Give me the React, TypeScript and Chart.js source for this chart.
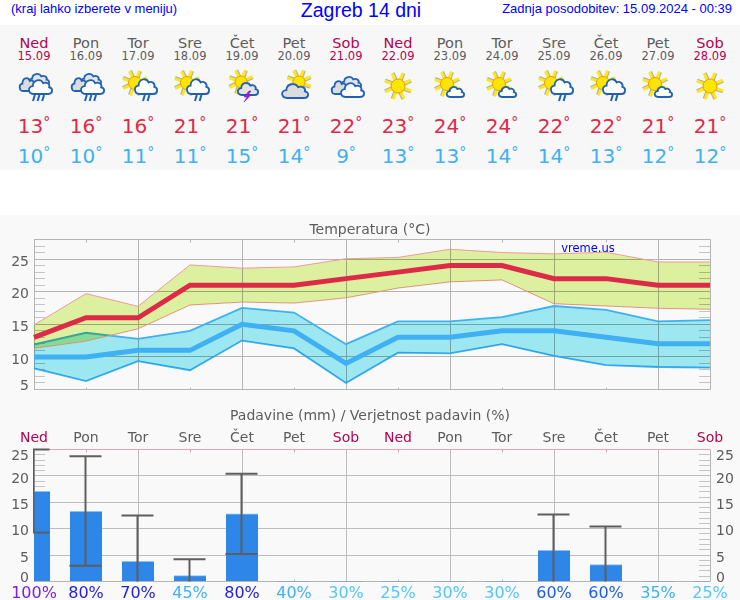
import React, { useEffect, useRef } from "react";
import { Chart, registerables } from "chart.js";

const days = ["Ned", "Pon", "Tor", "Sre", "Čet", "Pet", "Sob", "Ned", "Pon", "Tor", "Sre", "Čet", "Pet", "Sob"];
const dates = ["15.09", "16.09", "17.09", "18.09", "19.09", "20.09", "21.09", "22.09", "23.09", "24.09", "25.09", "26.09", "27.09", "28.09"];
const icons = ["rain", "rain", "sunrain", "sunrain", "storm", "cloudsun", "clouds", "sun", "suncloud", "suncloud", "sunrain", "sunrain", "suncloud", "sun"];
const maxTemps = [13, 16, 16, 21, 21, 21, 22, 23, 24, 24, 22, 22, 21, 21];
const minTemps = [10, 10, 11, 11, 15, 14, 9, 13, 13, 14, 14, 13, 12, 12];
const maxHigh = [14.9, 19.7, 17.75, 24.1, 23.6, 23.8, 25.05, 25.25, 26.5, 26.0, 25.8, 26.05, 24.55, 24.55];
const maxLow = [11.3, 12.4, 14.3, 17.95, 18.4, 18.25, 19.05, 20.55, 21.5, 21.8, 18.15, 17.8, 17.45, 17.3];
const minHigh = [11.9, 13.7, 12.75, 14.0, 17.5, 16.8, 11.95, 15.45, 15.45, 16.1, 17.8, 17.2, 15.45, 15.65];
const minLow = [8.25, 6.3, 9.35, 7.95, 12.5, 11.3, 6.0, 10.65, 10.55, 11.95, 10.15, 8.75, 8.45, 8.35];
const rainMm = [17.1, 13.3, 3.8, 1.1, 12.8, 0, 0, 0, 0, 0, 5.9, 3.2, 0, 0];
const rainLow = [9.3, 3.0, 0, 0, 5.2, null, null, null, null, null, 0, 0, null, null];
const rainHigh = [25, 23.7, 12.5, 4.2, 20.4, null, null, null, null, null, 12.7, 10.4, null, null];
const rainChance = [100, 80, 70, 45, 80, 40, 30, 25, 30, 30, 60, 60, 35, 25];
const pctLabels = rainChance.map((p) => p + "%");

const FONT = "'DejaVu Sans'";
const SANS = "'Liberation Sans'";
const GREY = "#5c5c5c";
const GRID = "#b4b4b4";
const CRIMSON = "#b0054f";
const RED = "#dd2a47";
const BLUE = "#3fb0f2";

const dayColor = (d: string) => (d === "Ned" || d === "Sob" ? CRIMSON : GREY);
const pctColor = (p: number) =>
  p >= 100 ? "#7a1fe0" : p >= 70 ? "#2424d6" : p >= 60 ? "#2060e0" : p >= 35 ? "#3fb0f8" : "#55c4fb";

const blendOn = {
  id: "bandBlendOn",
  beforeDatasetDraw(chart: any, args: any) {
    if (chart.data.datasets[args.index].band) chart.ctx.globalCompositeOperation = "multiply";
  },
};
Chart.register(blendOn);
Chart.register(...registerables);

const blendOff = {
  id: "bandBlendOff",
  beforeDatasetDraw(chart: any) {
    chart.ctx.globalCompositeOperation = "source-over";
  },
};

function hLine(ctx: any, x0: number, x1: number, y: number) {
  const p = Math.round(y - 0.5) + 0.5;
  ctx.beginPath();
  ctx.moveTo(x0, p);
  ctx.lineTo(x1, p);
  ctx.stroke();
}

const axisMarks = (minor: string, topColor: string, minorLen: number) => ({
  id: "axisMarks",
  beforeDatasetsDraw(chart: any) {
    const { ctx, chartArea: a, scales } = chart;
    const y = scales.y;
    ctx.save();
    ctx.lineWidth = 1;
    ctx.strokeStyle = minor;
    for (let v = Math.ceil(y.min); v <= y.max; v++) {
      if (v % 5 === 0) continue;
      const p = y.getPixelForValue(v);
      hLine(ctx, a.left, a.left + minorLen, p);
      hLine(ctx, a.right - minorLen, a.right, p);
    }
    // x tick stubs at the odd columns
    for (let i = 1; i < days.length; i += 2) {
      const px = Math.round(scales.x.getPixelForValue(i)) + 0.5;
      ctx.strokeStyle = topColor;
      ctx.beginPath();
      ctx.moveTo(px, a.top);
      ctx.lineTo(px, a.top + 3);
      ctx.stroke();
      ctx.strokeStyle = GRID;
      ctx.beginPath();
      ctx.moveTo(px, a.bottom);
      ctx.lineTo(px, a.bottom - 2);
      ctx.stroke();
    }
    ctx.strokeStyle = topColor;
    hLine(ctx, a.left, a.right, a.top);
    ctx.strokeStyle = GRID;
    hLine(ctx, a.left, a.right, a.bottom);
    ctx.beginPath();
    ctx.moveTo(a.left + 0.5, a.top);
    ctx.lineTo(a.left + 0.5, a.bottom);
    ctx.moveTo(a.right + 0.5, a.top);
    ctx.lineTo(a.right + 0.5, a.bottom);
    ctx.stroke();
    ctx.restore();
  },
});

const errorBars = {
  id: "errorBars",
  afterDatasetsDraw(chart: any) {
    const { ctx, chartArea: a, scales } = chart;
    ctx.save();
    ctx.beginPath();
    ctx.rect(a.left - 1, a.top - 2, a.right - a.left + 2, a.bottom - a.top + 3);
    ctx.clip();
    ctx.strokeStyle = "#5e5e5e";
    ctx.lineWidth = 2;
    rainHigh.forEach((hi, i) => {
      const lo = rainLow[i];
      if (hi == null || lo == null) return;
      const x = scales.x.getPixelForValue(i) - 0.5;
      const yh = scales.y.getPixelForValue(hi);
      const yl = scales.y.getPixelForValue(lo);
      ctx.beginPath();
      ctx.moveTo(x, yh);
      ctx.lineTo(x, yl);
      ctx.moveTo(x - 16, yh);
      ctx.lineTo(x + 16, yh);
      if (lo > 0) {
        ctx.moveTo(x - 16, yl);
        ctx.lineTo(x + 16, yl);
      }
      ctx.stroke();
    });
    ctx.restore();
  },
};

const tickFont = (edge: Record<number, number>) => (c: any) => {
  const lh = c.tick && edge[c.tick.value];
  return { family: FONT, size: 14, lineHeight: lh || 1.2 };
};

const fixY = (width: number) => (s: any) => {
  s.width = width;
  s.paddingTop = 0;
  s.paddingBottom = 0;
};

const bandLine = (label: string, data: number[], color: string, width: number, band: string | null) => ({
  label,
  data,
  borderColor: color,
  borderWidth: width,
  pointRadius: 0,
  tension: 0,
  borderJoinStyle: "miter",
  order: 3,
  band: !!band,
  backgroundColor: band || undefined,
  fill: band ? "+1" : false,
});
const meanLine = (label: string, data: number[], color: string) => ({
  label,
  data,
  borderColor: color,
  borderWidth: 5,
  pointRadius: 0,
  tension: 0,
  borderJoinStyle: "miter",
  order: 0,
  fill: false,
});

function Temperature() {
  const ref = useRef<HTMLCanvasElement>(null);
  useEffect(() => {
    const chart = new Chart(ref.current!, {
      type: "line",
      data: {
        labels: days,
        datasets: [
          bandLine("maxHigh", maxHigh, "#ee9a9a", 1, "#dcf09f"),
          bandLine("maxLow", maxLow, "#ee9a9a", 1, null),
          bandLine("minHigh", minHigh, BLUE, 1.8, "#9de8f0"),
          bandLine("minLow", minLow, BLUE, 1.8, null),
          meanLine("maxTemps", maxTemps, RED),
          meanLine("minTemps", minTemps, BLUE),
        ] as any,
      },
      options: {
        animation: false,
        responsive: false,
        devicePixelRatio: 1,
        layout: { autoPadding: false, padding: { top: 24.5, bottom: 10.5, right: 30, left: 0 } },
        plugins: { legend: { display: false }, title: { display: false }, tooltip: { enabled: false } },
        scales: {
          x: {
            offset: false,
            border: { display: false },
            ticks: { display: false, autoSkip: false },
            grid: {
              drawTicks: false,
              color: (c: any) => (c.index % 2 === 0 && c.index > 0 && c.index < 13 ? GRID : "rgba(0,0,0,0)"),
            },
            afterFit: (s: any) => { s.height = 0; },
          },
          y: {
            min: 5,
            max: 28,
            border: { display: false },
            afterBuildTicks: (s: any) => {
              s.ticks = Array.from({ length: 24 }, (_, k) => ({ value: 5 + k }));
            },
            afterFit: fixY(34),
            grid: {
              drawTicks: false,
              color: (c: any) => (c.tick.value % 5 === 0 && c.tick.value > 5 ? GRID : "rgba(0,0,0,0)"),
            },
            ticks: {
              autoSkip: false,
              padding: 5,
              color: GREY,
              labelOffset: 3,
              font: tickFont({ 5: 0.85 }) as any,
              callback: (v: any) => (v === 5 ? ["5", ""] : v % 5 === 0 ? String(v) : ""),
            },
          },
        },
      } as any,
      plugins: [blendOff, axisMarks("#c4c4c4", GRID, 11)],
    });
    return () => chart.destroy();
  }, []);
  return <canvas ref={ref} width={740} height={185} style={{ position: "absolute", left: 0, top: 215 }} />;
}

function Rain() {
  const ref = useRef<HTMLCanvasElement>(null);
  useEffect(() => {
    const rainTicks = {
      min: 0,
      max: 25,
      afterBuildTicks: (s: any) => {
        s.ticks = [0, 5, 10, 15, 20, 25].map((value) => ({ value }));
      },
      border: { display: false },
    };
    const tickLabel = (v: any) => (v === 0 ? ["0", ""] : v === 25 ? ["", "25"] : String(v));
    const chart = new Chart(ref.current!, {
      type: "bar",
      data: {
        labels: days,
        datasets: [
          {
            label: "rainMm",
            data: rainMm,
            backgroundColor: "#2e86e8",
            borderColor: "#8cc0f5",
            borderWidth: (c: any) => (rainMm[c.dataIndex] > 0 ? { top: 1, left: 0, right: 0, bottom: 0 } : 0),
            borderSkipped: false,
            barThickness: 32,
            xAxisID: "x",
            yAxisID: "y",
          },
        ] as any,
      },
      options: {
        animation: false,
        responsive: false,
        devicePixelRatio: 1,
        layout: { autoPadding: false, padding: 0 },
        plugins: { legend: { display: false }, title: { display: false }, tooltip: { enabled: false } },
        scales: {
          x: {
            position: "top",
            offset: false,
            border: { display: false },
            grid: {
              offset: false,
              drawTicks: false,
              color: (c: any) => (c.index % 2 === 0 && c.index > 0 && c.index < 13 ? "#bdbdbd" : "rgba(0,0,0,0)"),
            },
            ticks: {
              autoSkip: false,
              maxRotation: 0,
              padding: 3,
              color: (c: any) => dayColor(days[c.index]),
              font: { family: FONT, size: 14 },
            },
            afterFit: (s: any) => { s.height = 49.5; },
          },
          x2: {
            type: "category",
            labels: pctLabels,
            position: "bottom",
            offset: false,
            border: { display: false },
            grid: { display: false, drawTicks: false, offset: false },
            ticks: {
              autoSkip: false,
              maxRotation: 0,
              padding: 2.5,
              color: (c: any) => pctColor(rainChance[c.index]),
              font: { family: FONT, size: 16 },
            },
            afterFit: (s: any) => { s.height = 18.5; },
          },
          y: {
            ...rainTicks,
            position: "left",
            afterFit: fixY(34),
            grid: {
              drawTicks: false,
              color: (c: any) => (c.tick.value > 0 && c.tick.value < 25 ? "#bdbdbd" : "rgba(0,0,0,0)"),
            },
            ticks: {
              autoSkip: false,
              padding: 5,
              color: GREY,
              labelOffset: 3,
              font: tickFont({ 0: 0.85, 25: 0.6 }) as any,
              callback: tickLabel,
            },
          },
          y2: {
            ...rainTicks,
            position: "right",
            afterFit: fixY(30),
            grid: { display: false, drawTicks: false },
            ticks: {
              autoSkip: false,
              padding: 6,
              color: GREY,
              labelOffset: 3,
              font: tickFont({ 0: 0.85, 25: 0.6 }) as any,
              callback: tickLabel,
            },
          },
        },
      } as any,
      plugins: [axisMarks("#c4c4c4", "#e6a2ba", 11), errorBars],
    });
    return () => chart.destroy();
  }, []);
  return <canvas ref={ref} width={740} height={200} style={{ position: "absolute", left: 0, top: 400 }} />;
}

const CLOUD = "M7 18 C0 18 -1 9 6 8.5 C6 1 16 -1 19 5 C23 3 28 6 26.5 10 C32 11 31 18 25 18 Z";

function Cloud({ x, y, w, h, fill }: { x: number; y: number; w: number; h: number; fill: string }) {
  const sx = w / 30;
  const sy = h / 18;
  const t = (dx: number) => `translate(${x + dx} ${y + dx}) scale(${sx} ${sy})`;
  return (
    <g>
      <path d={CLOUD} transform={t(1)} fill="#8a8a8a" opacity={0.5} />
      <path d={CLOUD} transform={t(0)} fill={fill} stroke="#1f62b4" strokeWidth={1.8} vectorEffect="non-scaling-stroke" />
    </g>
  );
}

function Sun({ cx, cy, r, ray }: { cx: number; cy: number; r: number; ray: number }) {
  const rays = [0, 45, 90, 135, 180, 225, 270, 315];
  return (
    <g>
      {rays.map((a) => (
        <g key={a} transform={`rotate(${a + 20} ${cx} ${cy})`}>
          <line x1={cx + r - 1} y1={cy + 1} x2={cx + ray} y2={cy + 1} stroke="#777760" strokeWidth={3.2} opacity={0.55} />
          <line x1={cx + r - 1} y1={cy} x2={cx + ray} y2={cy} stroke="#ffe81a" strokeWidth={3} />
        </g>
      ))}
      <circle cx={cx} cy={cy} r={r} fill="#ffe600" stroke="#f09a10" strokeWidth={1} />
    </g>
  );
}

function Drops({ x, n }: { x: number; n: number }) {
  return (
    <g stroke="#1f62b4" strokeWidth={2}>
      {Array.from({ length: n }, (_, k) => (
        <line key={k} x1={x + k * 4.6 + 1.8} y1={27} x2={x + k * 4.6} y2={33} />
      ))}
    </g>
  );
}

function TwoClouds({ dy }: { dy: number }) {
  return (
    <g transform={`translate(0 ${dy})`}>
      <Cloud x={16} y={5} w={21} h={12} fill="#e4e4e4" />
      <Cloud x={7} y={9} w={17} h={14} fill="#dcdcdc" />
      <Cloud x={16} y={11} w={24} h={15} fill="#ffffff" />
    </g>
  );
}

function WeatherIcon({ kind, x }: { kind: string; x: number }) {
  let body: React.ReactNode = null;
  if (kind === "rain") body = (<><TwoClouds dy={0} /><Drops x={21} n={3} /></>);
  if (kind === "clouds") body = <TwoClouds dy={3} />;
  if (kind === "sun") body = <Sun cx={22} cy={18} r={7} ray={14} />;
  if (kind === "sunrain")
    body = (<><Sun cx={19} cy={15} r={6.5} ray={13} /><Cloud x={18} y={10} w={23} h={16} fill="#ffffff" /><Drops x={27} n={2} /></>);
  if (kind === "suncloud")
    body = (<><Sun cx={19} cy={16} r={6.5} ray={13} /><Cloud x={18} y={18} w={18} h={11} fill="#ffffff" /></>);
  if (kind === "cloudsun")
    body = (<><Sun cx={27} cy={14} r={6} ray={12.5} /><Cloud x={9} y={15} w={27} h={15} fill="#dcdcdc" /></>);
  if (kind === "storm")
    body = (
      <>
        <Sun cx={21} cy={14} r={6} ray={12.5} />
        <Cloud x={17} y={14} w={21} h={13} fill="#e4e4e4" />
        <path d="M29 23 L24 29 L27 29 L24 34 L31 27 L28 27 L31 23 Z" fill="#a020e0" stroke="#7a10c0" strokeWidth={0.5} />
      </>
    );
  return (
    <svg width={44} height={40} viewBox="0 0 44 40" style={{ position: "absolute", left: x - 22, top: 68 }}>
      {body}
    </svg>
  );
}

function Text({ x, y, children, font, size, color, left, right }: any) {
  const style: React.CSSProperties = {
    position: "absolute",
    top: y,
    fontFamily: font,
    fontSize: size,
    color,
    lineHeight: 1,
    whiteSpace: "nowrap",
    transform: left != null || right != null ? "translateY(-50%)" : "translate(-50%,-50%)",
  };
  if (left != null) style.left = left;
  else if (right != null) style.right = right;
  else style.left = x;
  return <div style={style}>{children}</div>;
}

const Degree = () => <span style={{ fontSize: 14, position: "relative", top: -6 }}>°</span>;

export default function App() {
  const colX = (i: number) => 34 + 52 * i;
  return (
    <div style={{ position: "relative", width: 740, height: 600, background: "#fff", overflow: "hidden" }}>
      <style>{"html,body{margin:0;padding:0;background:#fff}"}</style>
      <div style={{ position: "absolute", left: 0, top: 25, width: 740, height: 145, background: "#f7f7f7" }} />
      <div style={{ position: "absolute", left: 0, top: 215, width: 740, height: 385, background: "#f9f9f9" }} />
      <Text left={11} y={8} font={SANS} size={13} color="#0000ff">(kraj lahko izberete v meniju)</Text>
      <Text x={361} y={11} font={SANS} size={19.5} color="#0000ff">Zagreb 14 dni</Text>
      <Text right={8} y={8} font={SANS} size={13} color="#0000ff">Zadnja posodobitev: 15.09.2024 - 00:39</Text>
      {days.map((d, i) => (
        <React.Fragment key={i}>
          <Text x={colX(i)} y={43} font={FONT} size={14.5} color={dayColor(d)}>{d}</Text>
          <Text x={colX(i)} y={57} font={FONT} size={11.5} color={dayColor(d)}>{dates[i]}</Text>
          <WeatherIcon kind={icons[i]} x={colX(i)} />
          <Text x={colX(i)} y={126} font={FONT} size={20} color={RED}>{maxTemps[i]}<Degree /></Text>
          <Text x={colX(i)} y={156} font={FONT} size={20} color={BLUE}>{minTemps[i]}<Degree /></Text>
        </React.Fragment>
      ))}
      <Temperature />
      <Rain />
      <Text x={370} y={229} font={FONT} size={14} color={GREY}>Temperatura (°C)</Text>
      <Text x={588} y={249} font={FONT} size={11.5} color="#0000ff">vreme.us</Text>
      <Text x={370} y={415} font={FONT} size={14} color={GREY}>Padavine (mm) / Verjetnost padavin (%)</Text>
    </div>
  );
}
